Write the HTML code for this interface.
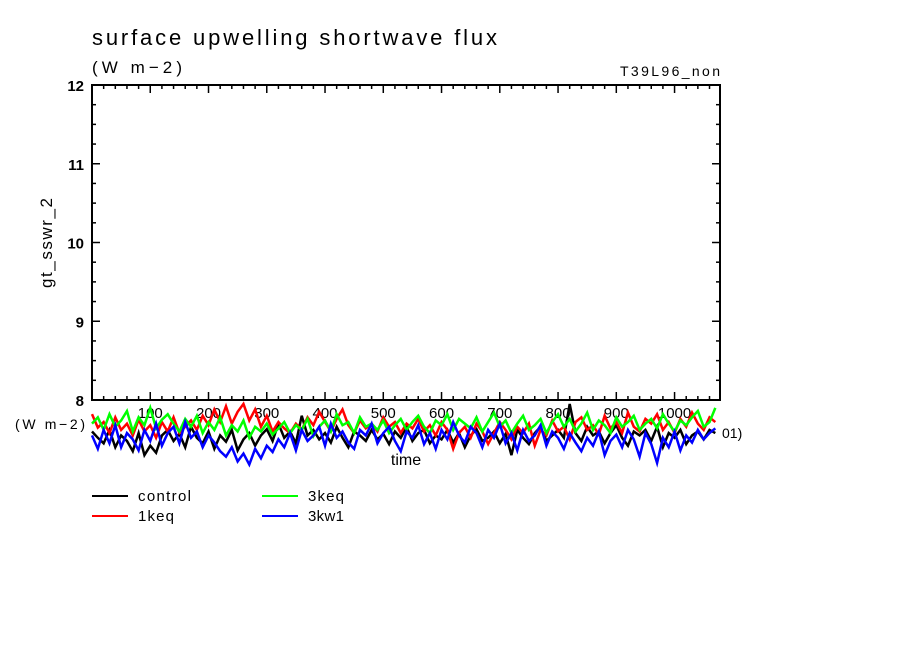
<!DOCTYPE html>
<html><head><meta charset="utf-8"><style>
body{margin:0;background:#fff;}
svg{display:block;font-family:"Liberation Sans",sans-serif;}
</style></head><body>
<svg id="chart" width="904" height="654" viewBox="0 0 904 654">
<text x="92" y="45" font-size="22" textLength="405" lengthAdjust="spacing">surface upwelling shortwave flux</text>
<text x="92" y="73" font-size="17" textLength="90" lengthAdjust="spacing">(W m−2)</text>
<text x="620" y="76" font-size="14" textLength="100" lengthAdjust="spacing">T39L96_non</text>
<text x="52" y="243" font-size="17" text-anchor="middle" transform="rotate(-90 52 243)" textLength="90" lengthAdjust="spacing">gt_sswr_2</text>
<text x="15" y="429" font-size="14" textLength="70" lengthAdjust="spacing">(W m−2)</text>
<text x="406" y="465" font-size="16" text-anchor="middle">time</text>
<text x="722" y="438" font-size="14">01)</text>
<g id="ticks"></g>
<g id="series"></g>
<rect x="92" y="85" width="628" height="315" fill="none" stroke="#000" stroke-width="2"/>
<g font-size="15">
<line x1="92" y1="496" x2="128" y2="496" stroke="#000" stroke-width="2"/>
<text x="138" y="501" textLength="53" lengthAdjust="spacing">control</text>
<line x1="92" y1="516" x2="128" y2="516" stroke="#f00" stroke-width="2"/>
<text x="138" y="521" textLength="36" lengthAdjust="spacing">1keq</text>
<line x1="262" y1="496" x2="298" y2="496" stroke="#0f0" stroke-width="2"/>
<text x="308" y="501" textLength="36" lengthAdjust="spacing">3keq</text>
<line x1="262" y1="516" x2="298" y2="516" stroke="#00f" stroke-width="2"/>
<text x="308" y="521" textLength="36" lengthAdjust="spacing">3kw1</text>
</g>
</svg>
<script>
const yTicks=[8,9,10,11,12];
const xTicks=[100,200,300,400,500,600,700,800,900,1000];
const tStep=10;
const control=[7.60,7.52,7.45,7.62,7.40,7.55,7.48,7.35,7.58,7.30,7.42,7.33,7.55,7.62,7.48,7.57,7.40,7.66,7.52,7.45,7.60,7.38,7.55,7.47,7.62,7.36,7.50,7.58,7.42,7.55,7.63,7.48,7.70,7.52,7.60,7.45,7.80,7.55,7.62,7.50,7.58,7.46,7.66,7.52,7.40,7.60,7.55,7.48,7.62,7.50,7.57,7.44,7.60,7.52,7.66,7.48,7.58,7.62,7.45,7.55,7.50,7.62,7.46,7.58,7.40,7.55,7.63,7.48,7.52,7.60,7.45,7.57,7.30,7.62,7.52,7.44,7.58,7.66,7.48,7.55,7.62,7.52,7.95,7.58,7.48,7.66,7.55,7.60,7.45,7.58,7.68,7.52,7.42,7.60,7.55,7.62,7.48,7.66,7.40,7.58,7.52,7.62,7.44,7.55,7.60,7.50,7.62,7.58];
const keq1=[7.82,7.65,7.72,7.58,7.78,7.62,7.70,7.55,7.75,7.60,7.68,7.52,7.72,7.60,7.78,7.58,7.66,7.74,7.62,7.80,7.68,7.88,7.72,7.92,7.70,7.85,7.95,7.74,7.88,7.66,7.80,7.60,7.72,7.64,7.58,7.70,7.62,7.78,7.68,7.85,7.72,7.60,7.76,7.88,7.68,7.58,7.74,7.64,7.70,7.60,7.78,7.66,7.72,7.58,7.70,7.64,7.76,7.60,7.68,7.55,7.72,7.62,7.38,7.58,7.66,7.52,7.70,7.60,7.44,7.58,7.72,7.62,7.50,7.66,7.58,7.70,7.42,7.62,7.55,7.74,7.60,7.66,7.50,7.72,7.78,7.62,7.68,7.56,7.80,7.64,7.72,7.58,7.84,7.66,7.60,7.76,7.70,7.82,7.62,7.72,7.58,7.76,7.66,7.84,7.70,7.62,7.78,7.72];
const keq3=[7.70,7.78,7.62,7.82,7.66,7.74,7.86,7.60,7.78,7.68,7.90,7.64,7.75,7.82,7.70,7.60,7.76,7.66,7.80,7.58,7.72,7.62,7.78,7.55,7.68,7.60,7.74,7.52,7.66,7.60,7.70,7.56,7.64,7.72,7.58,7.68,7.62,7.76,7.54,7.66,7.74,7.60,7.82,7.68,7.72,7.58,7.78,7.66,7.70,7.62,7.74,7.58,7.68,7.76,7.62,7.72,7.80,7.66,7.58,7.74,7.68,7.82,7.62,7.76,7.70,7.64,7.78,7.60,7.72,7.84,7.66,7.74,7.58,7.70,7.80,7.62,7.68,7.76,7.58,7.72,7.82,7.66,7.76,7.60,7.70,7.84,7.62,7.74,7.68,7.58,7.78,7.66,7.72,7.80,7.62,7.70,7.76,7.64,7.82,7.70,7.60,7.74,7.68,7.78,7.86,7.66,7.72,7.90];
const kw13=[7.55,7.38,7.62,7.45,7.68,7.40,7.58,7.50,7.36,7.62,7.48,7.70,7.42,7.58,7.66,7.45,7.72,7.52,7.60,7.40,7.55,7.46,7.35,7.28,7.40,7.22,7.32,7.18,7.38,7.26,7.42,7.34,7.50,7.40,7.58,7.36,7.62,7.48,7.55,7.66,7.42,7.70,7.52,7.60,7.46,7.38,7.62,7.55,7.70,7.45,7.58,7.66,7.48,7.35,7.60,7.52,7.68,7.44,7.58,7.38,7.62,7.50,7.72,7.55,7.46,7.66,7.58,7.40,7.62,7.52,7.70,7.45,7.58,7.36,7.62,7.48,7.55,7.68,7.42,7.60,7.52,7.38,7.58,7.46,7.35,7.52,7.42,7.60,7.30,7.48,7.56,7.40,7.62,7.50,7.28,7.58,7.44,7.20,7.52,7.40,7.60,7.36,7.55,7.46,7.62,7.50,7.58,7.64];
const NS="http://www.w3.org/2000/svg";
const X0=92,X1=720,Y0=400,Y1=85,XMAX=1078,YMIN=8,YMAX=12;
function xs(t){return X0+(t/XMAX)*(X1-X0);}
function ys(v){return Y0-(v-YMIN)/(YMAX-YMIN)*(Y0-Y1);}
const tg=document.getElementById('ticks');
function ln(x1,y1,x2,y2,name){const l=document.createElementNS(NS,'line');
l.setAttribute('x1',x1);l.setAttribute('y1',y1);l.setAttribute('x2',x2);l.setAttribute('y2',y2);
l.setAttribute('stroke','#000');l.setAttribute('stroke-width','1.5');


tg.appendChild(l);}
for(let v=YMIN;v<=YMAX+1e-9;v+=0.25){const y=ys(v);const major=Math.abs(v-Math.round(v))<1e-6;const L=major?8:4;
ln(X0,y,X0+L,y,'y-tick');ln(X1,y,X1-L,y,'y-tick-right');}
for(let t=20;t<XMAX;t+=20){const x=xs(t);const major=t%100===0;const L=major?8:4;
ln(x,Y0,x,Y0-L,'x-tick');ln(x,Y1,x,Y1+L,'x-tick-top');}
yTicks.forEach(v=>{const t=document.createElementNS(NS,'text');t.setAttribute('x',84);t.setAttribute('y',ys(v)+6);
t.setAttribute('text-anchor','end');t.setAttribute('font-size','15');t.setAttribute('font-weight','bold');t.textContent=v;


tg.appendChild(t);});
xTicks.forEach(v=>{const t=document.createElementNS(NS,'text');t.setAttribute('x',xs(v));t.setAttribute('y',418);
t.setAttribute('text-anchor','middle');t.setAttribute('font-size','15');t.textContent=v;


tg.appendChild(t);});
const sg=document.getElementById('series');
function draw(arr,col,name){const p=document.createElementNS(NS,'polyline');
p.setAttribute('points',arr.map((v,i)=>xs(i*tStep)+','+ys(v)).join(' '));
p.setAttribute('fill','none');p.setAttribute('stroke',col);p.setAttribute('stroke-width','2.5');


sg.appendChild(p);}
draw(control,'#000','series-control');
draw(keq1,'#f00','series-1keq');
draw(keq3,'#0f0','series-3keq');
draw(kw13,'#00f','series-3kw1');
</script>
</body></html>
